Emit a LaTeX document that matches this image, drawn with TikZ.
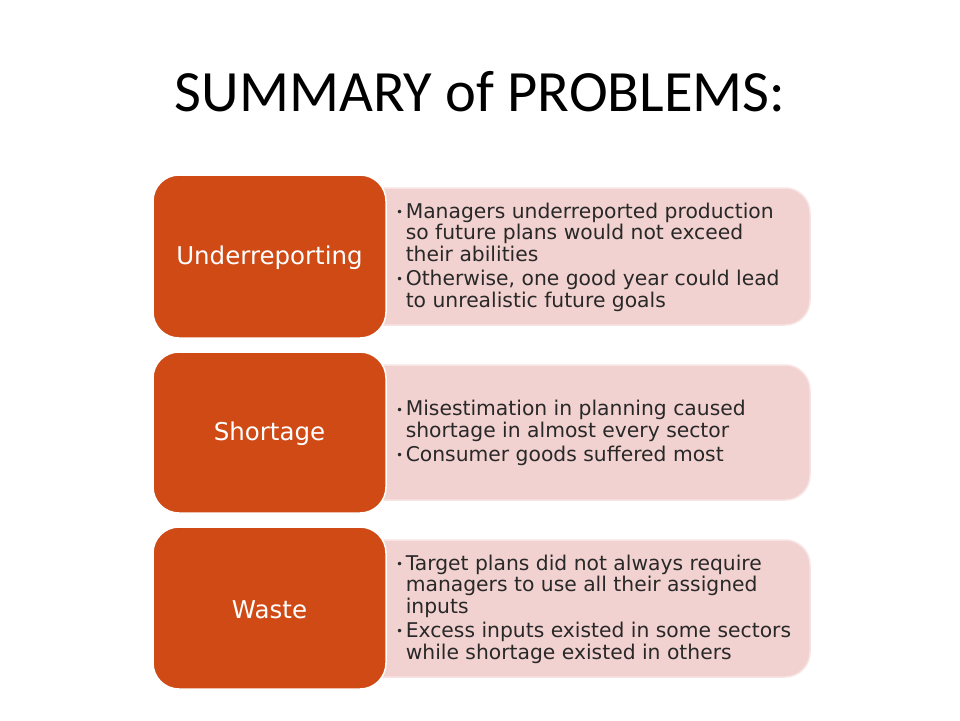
\documentclass[tikz,border=0pt]{standalone}
\usepackage{fontspec}
\setmainfont{DejaVu Sans}
\newfontfamily\titlefont{Carlito}
\definecolor{orng}{RGB}{208,74,22}
\definecolor{pnk}{RGB}{242,210,208}
\definecolor{pnkb}{RGB}{248,228,227}
\definecolor{txt}{RGB}{40,40,40}
\tikzset{
  x=1pt,y=-1pt,
  orangebox/.style={fill=orng,draw=white,line width=1.5pt,rounded corners=26pt},
  pinkbox/.style={fill=pnk,draw=pnkb,line width=1.5pt,rounded corners=25pt},
  lbl/.style={text=white,font=\fontsize{24.5}{28}\selectfont,inner sep=0pt},
  bodytxt/.style={text=txt,font=\fontsize{20.3}{21}\selectfont,inner sep=0pt,anchor=west,align=left}
}
\newcommand{\bl}{{\fontsize{12}{21}\selectfont\raisebox{1.5pt}{•}}}
\begin{document}
\begin{tikzpicture}
\useasboundingbox (0,0) rectangle (960,720);
\fill[white] (0,0) rectangle (960,720);
\node[font=\titlefont\fontsize{58.5}{60}\selectfont,inner sep=0pt] (title) at (480,92) {SUMMARY of PROBLEMS:};
% row 1
\path[pinkbox] (300,188) rectangle (810,325);
\path[orangebox] (153,175) rectangle (386,338);
\node[lbl] (l1) at (269.5,258) {Underreporting};
\node[bodytxt] (t1) at (396,258) {\begin{tabular}{@{}l@{\hspace{2.5pt}}l@{}}
\bl & Managers underreported production\\
 & so future plans would not exceed\\
 & their abilities\\[2pt]
\bl & Otherwise, one good year could lead\\
 & to unrealistic future goals
\end{tabular}};
% row 2
\path[pinkbox] (300,365) rectangle (810,500);
\path[orangebox] (153,352) rectangle (386,513);
\node[lbl] (l2) at (269.5,434) {Shortage};
\node[bodytxt] (t2) at (396,434) {\begin{tabular}{@{}l@{\hspace{2.5pt}}l@{}}
\bl & Misestimation in planning caused\\
 & shortage in almost every sector\\[2pt]
\bl & Consumer goods suffered most
\end{tabular}};
% row 3
\path[pinkbox] (300,540) rectangle (810,677);
\path[orangebox] (153,527) rectangle (386,689);
\node[lbl] (l3) at (269.5,610) {Waste};
\node[bodytxt] (t3) at (396,610) {\begin{tabular}{@{}l@{\hspace{2.5pt}}l@{}}
\bl & Target plans did not always require\\
 & managers to use all their assigned\\
 & inputs\\[2pt]
\bl & Excess inputs existed in some sectors\\
 & while shortage existed in others
\end{tabular}};
\end{tikzpicture}
\end{document}
